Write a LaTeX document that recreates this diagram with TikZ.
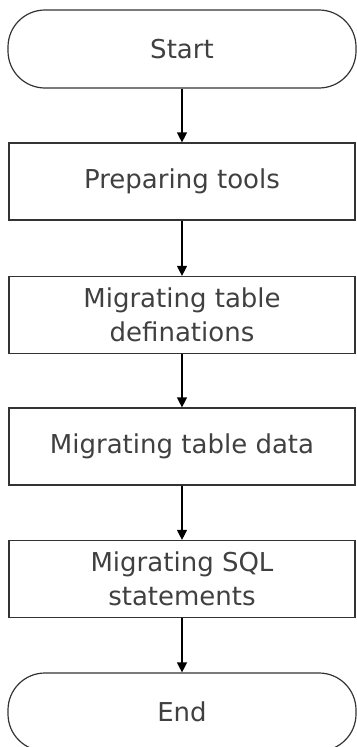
\documentclass[tikz,border=0pt]{standalone}
\usepackage{fontspec}
\setmainfont{DejaVu Sans}
\usepackage{tikz}
\usetikzlibrary{positioning, arrows.meta}

\tikzset{
    stepbox/.style={draw=black!80, line width=1.2bp, minimum width=346bp, minimum height=77bp,
        align=center, text=black!75, font=\fontsize{26bp}{34bp}\selectfont, inner sep=0pt},
    termbox/.style={stepbox, minimum width=348bp, minimum height=78bp, rounded corners=37bp},
    flow/.style={line width=1.3bp, -{Triangle[width=10bp, length=10bp]}}
}

\begin{document}
\begin{tikzpicture}
        \useasboundingbox (0,0) rectangle (357bp,-747bp);

        % Flow steps, top to bottom
        \node[termbox] (start) at (182bp,-49bp)  {Start};
        \node[stepbox] (tools) at (182bp,-181.5bp) {Preparing tools};
        \node[stepbox] (defs)  at (182bp,-315bp) {Migrating table\\definations};
        \node[stepbox] (data)  at (182bp,-446.5bp) {Migrating table data};
        \node[stepbox] (sql)   at (182bp,-579bp) {Migrating SQL\\statements};
        \node[termbox] (stop)  at (182bp,-712bp) {End};

        % Arrows between steps
        \foreach \a/\b in {start/tools, tools/defs, defs/data, data/sql, sql/stop}
            \draw[flow] (\a) -- (\b);
    \end{tikzpicture}
\end{document}
